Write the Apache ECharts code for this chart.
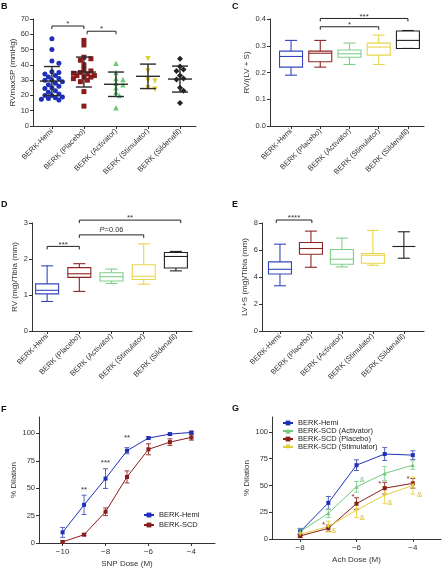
<!DOCTYPE html>
<html><head><meta charset="utf-8">
<script src="https://cdn.jsdelivr.net/npm/echarts@6/dist/echarts.min.js"></script>
<style>html,body{margin:0;padding:0;background:#fff}#c{width:442px;height:569px}</style>
</head><body><div id="c"></div><script>
// ---------- DATA ----------
const categories = ['BERK-Hemi', 'BERK (Placebo)', 'BERK (Activator)', 'BERK (Stimulator)', 'BERK (Sildenafil)'];
const catTicks = [0, 1, 2, 3, 4];

// Panel B: RVmaxSP individual points
const bHemi = [57, 50, 42.5, 41, 35.5, 35, 34, 33, 32, 31, 30, 30, 29, 28, 27, 26, 25, 24.5, 23, 22, 21, 20, 20, 19, 18.5, 18, 17.5, 17];
const bPlacebo = [56, 53, 45, 44, 43, 40, 37, 36, 35, 34.5, 34, 33, 33, 32, 32, 31, 30, 29, 22.5, 13];
const bActivator = [41, 35, 31, 30.5, 28, 27, 25, 22, 20, 12];
const bStimulator = [44, 36, 30, 29.5, 25, 24];
const bSildenafil = [44, 39, 37, 36, 33, 31, 30.5, 25, 23, 15];
const bMean = [29.4, 35.3, 27.3, 32.5, 30.7];
const bSD = [9.5, 9.8, 8.0, 8.0, 8.5];
const bBrackets = [[0, 1, 65.4], [1.1, 2, 62]];
const bBracketText = ['*', '*'];

// Panel C: RV/(LV+S) boxes [min, q1, median, q3, max]
const cBoxes = [[0.19, 0.22, 0.26, 0.28, 0.32], [0.22, 0.24, 0.272, 0.28, 0.32], [0.23, 0.257, 0.27, 0.284, 0.31], [0.23, 0.265, 0.295, 0.31, 0.34], [0.29, 0.29, 0.32, 0.355, 0.357]];
const cBrackets = [[1, 3, 0.371], [1, 4, 0.402]];
const cBracketText = ['*', '***'];

// Panel D: RV/Tibia boxes
const dBoxes = [[0.82, 1.03, 1.13, 1.31, 1.81], [1.10, 1.49, 1.59, 1.76, 1.87], [1.32, 1.39, 1.51, 1.62, 1.72], [1.30, 1.43, 1.52, 1.84, 2.42], [1.67, 1.75, 2.07, 2.18, 2.21]];
const dBrackets = [[0, 1, 2.35], [1, 3, 2.67], [1, 4.15, 3.08]];
const dBracketText = ['***', 'P=0.06', '**'];

// Panel E: LV+S/Tibia boxes
const eBoxes = [[3.35, 4.22, 4.57, 5.12, 6.43], [4.72, 5.69, 6.11, 6.56, 7.40], [4.75, 4.94, 5.32, 6.04, 6.88], [4.87, 5.02, 5.61, 5.74, 7.45], [5.39, 6.26, 6.26, 6.26, 7.35]];
const eBrackets = [[-0.12, 1.03, 8.22]];
const eBracketText = ['****'];

// Panel F: SNP dose response
const fDose = [-10, -9, -8, -7, -6, -5, -4];
const fHemi = [9.7, 34.8, 58.8, 84.2, 95.8, 99.4, 100.9];
const fHemiErr = [4.5, 8.8, 9.0, 2.8, 1.0, 0.8, 0.8];
const fSCD = [1.0, 7.6, 28.5, 60.3, 85.5, 92.1, 96.4];
const fSCDErr = [1.0, 1.0, 3.5, 5.5, 5.0, 3.0, 2.5];
const fStars = [[-9, 48.5], [-8, 73.6], [-7, 96]];
const fStarText = ['**', '***', '**'];

// Panel G: Ach dose response
const gDose = [-8, -7, -6, -5, -4];
const gHemi = [6.9, 33.75, 69, 79.4, 78.4];
const gHemiErr = [3, 6, 5, 6, 4];
const gAct = [7, 24, 48.75, 61.25, 69];
const gActErr = [2, 4, 5, 6.5, 4];
const gPla = [2.8, 10, 33, 47.5, 52];
const gPlaErr = [1.5, 3, 5.5, 5.5, 4.5];
const gSti = [4.4, 11.6, 27, 41, 50];
const gStiErr = [2, 5, 7, 8, 8];
const gRedStars = [[-7.17, 13], [-6.12, 39], [-5.17, 52], [-4.17, 56]];
const gGreenAmp = [[-5.8, 55]];
const gYellowAmp = [[-6.8, 7.5], [-5.8, 20], [-4.81, 33.4], [-3.76, 41]];

// ---------- STYLE ----------
const FONT = '"Liberation Sans", Arial, sans-serif';
const TXT = '#333';
const BLUE = '#1f30b8', RED = '#8a1c1c', GREEN = '#6fc97c', YELLOW = '#e2cf3a', BLACK = '#222', GOLD = '#d8b92a';
const boxColors = ['#3445bf', '#8e2626', '#7fcf8a', '#e8d64a', '#222'];

const chart = echarts.init(document.getElementById('c'));

const grids = [
  {left: 33, top: 19, width: 163, height: 107},
  {left: 270, top: 19, width: 154, height: 107},
  {left: 32, top: 223, width: 160, height: 108},
  {left: 262, top: 223, width: 162, height: 108},
  {left: 39, top: 417, width: 176, height: 126},
  {left: 272, top: 417, width: 169, height: 122}
];
const axLine = {show: true, onZero: false, lineStyle: {color: '#333', width: 1}};
function catX(gi, min, max) {
  return {type: 'value', gridIndex: gi, min, max, axisLine: axLine,
    axisTick: {show: true, length: 3, customValues: catTicks, lineStyle: {color: '#333'}},
    axisLabel: {customValues: catTicks, rotate: 45, fontSize: 7.5, fontFamily: FONT, color: TXT, margin: 4,
      formatter: v => categories[Math.round(v)] || ''},
    splitLine: {show: false}};
}
function doseX(gi, min, max, ticks, name) {
  return {type: 'value', gridIndex: gi, min, max, axisLine: axLine,
    axisTick: {show: true, length: 3, customValues: ticks, lineStyle: {color: '#333'}},
    axisLabel: {customValues: ticks, fontSize: 8, fontFamily: FONT, color: TXT, margin: 5,
      formatter: v => (v < 0 ? '\u2212' : '') + Math.abs(v)},
    name, nameLocation: 'middle', nameGap: 17, nameTextStyle: {fontSize: 8, fontFamily: FONT, color: TXT},
    splitLine: {show: false}};
}
function valY(gi, min, max, interval, name, gap, fmt, custom) {
  const a = {type: 'value', gridIndex: gi, min, max, axisLine: axLine,
    axisTick: {show: true, length: 3, lineStyle: {color: '#333'}},
    axisLabel: {fontSize: 7.5, fontFamily: FONT, color: TXT, margin: 4},
    name, nameLocation: 'middle', nameGap: gap, nameTextStyle: {fontSize: 8, fontFamily: FONT, color: TXT},
    splitLine: {show: false}};
  if (interval) a.interval = interval;
  if (fmt) a.axisLabel.formatter = fmt;
  if (custom) { a.axisTick.customValues = custom; a.axisLabel.customValues = custom; }
  return a;
}

function boxSeries(gi, boxes) {
  return {type: 'custom', xAxisIndex: gi, yAxisIndex: gi, clip: false, silent: true, z: 3,
    data: boxes.map((b, i) => [i].concat(b)), encode: {x: 0, y: [1, 2, 3, 4, 5]},
    renderItem: (p, api) => {
      const i = api.value(0);
      const c = api.coord.bind(api);
      const mn = c([i, api.value(1)]), q1 = c([i, api.value(2)]), md = c([i, api.value(3)]), q3 = c([i, api.value(4)]), mx = c([i, api.value(5)]);
      const x = md[0], hw = 11.5, cw = 6;
      const col = boxColors[i];
      const st = {stroke: col, lineWidth: 1.1, fill: null};
      const ch = [];
      if (q1[1] - q3[1] > 0.5) ch.push({type: 'rect', shape: {x: x - hw, y: q3[1], width: 2 * hw, height: q1[1] - q3[1]}, style: st});
      ch.push({type: 'line', shape: {x1: x - hw, y1: md[1], x2: x + hw, y2: md[1]}, style: st});
      ch.push({type: 'line', shape: {x1: x, y1: q3[1], x2: x, y2: mx[1]}, style: st});
      ch.push({type: 'line', shape: {x1: x, y1: q1[1], x2: x, y2: mn[1]}, style: st});
      ch.push({type: 'line', shape: {x1: x - cw, y1: mx[1], x2: x + cw, y2: mx[1]}, style: st});
      ch.push({type: 'line', shape: {x1: x - cw, y1: mn[1], x2: x + cw, y2: mn[1]}, style: st});
      return {type: 'group', children: ch};
    }};
}
function bracketSeries(gi, arr, texts) {
  return {type: 'custom', xAxisIndex: gi, yAxisIndex: gi, clip: false, silent: true, z: 5,
    data: arr.map(b => [b[0], b[1], b[2]]), encode: {x: [0, 1], y: 2},
    renderItem: (p, api) => {
      const a = api.coord([api.value(0), api.value(2)]), b = api.coord([api.value(1), api.value(2)]);
      const t = texts[p.dataIndex];
      const star = t.indexOf('*') >= 0;
      const txt = star ? {text: t, fill: '#333', fontSize: 8, fontFamily: FONT, align: 'center', verticalAlign: 'middle'}
        : {text: '{i|P}=0.06', rich: {i: {fontStyle: 'italic', fontSize: 7.5, fontFamily: FONT, fill: '#333'}}, fill: '#333', fontSize: 7.5, fontFamily: FONT, align: 'center', verticalAlign: 'bottom'};
      return {type: 'group', children: [
        {type: 'polyline', shape: {points: [[a[0], a[1] + 3], [a[0], a[1]], [b[0], b[1]], [b[0], b[1] + 3]]}, style: {stroke: '#222', lineWidth: 1, fill: null}},
        {type: 'text', x: (a[0] + b[0]) / 2, y: star ? a[1] - 2 : a[1] - 1, style: txt}
      ]};
    }};
}
function textSeries(gi, arr, texts, color, size) {
  return {type: 'custom', xAxisIndex: gi, yAxisIndex: gi, clip: false, silent: true, z: 6,
    data: arr.map(b => [b[0], b[1]]), encode: {x: 0, y: 1},
    renderItem: (p, api) => {
      const a = api.coord([api.value(0), api.value(1)]);
      const t = Array.isArray(texts) ? texts[p.dataIndex] : texts;
      return {type: 'text', x: a[0], y: a[1], style: {text: t, fill: color, fontSize: size, fontFamily: FONT, align: 'center', verticalAlign: 'middle'}};
    }};
}
function errSeries(gi, xs, ys, es, color, cap) {
  return {type: 'custom', xAxisIndex: gi, yAxisIndex: gi, clip: false, silent: true, z: 2,
    data: xs.map((x, i) => [x, ys[i], es[i]]), encode: {x: 0, y: 1},
    renderItem: (p, api) => {
      const x = api.value(0), y = api.value(1), e = api.value(2);
      const t = api.coord([x, y + e]), b = api.coord([x, y - e]);
      const w = cap;
      const st = {stroke: color, lineWidth: 1, fill: null};
      return {type: 'group', children: [
        {type: 'line', shape: {x1: t[0], y1: t[1], x2: b[0], y2: b[1]}, style: st},
        {type: 'line', shape: {x1: t[0] - w, y1: t[1], x2: t[0] + w, y2: t[1]}, style: st},
        {type: 'line', shape: {x1: b[0] - w, y1: b[1], x2: b[0] + w, y2: b[1]}, style: st}
      ]};
    }};
}
function meanSDSeries(gi, means, sds) {
  return {type: 'custom', xAxisIndex: gi, yAxisIndex: gi, clip: false, silent: true, z: 6,
    data: means.map((m, i) => [i, m, sds[i]]), encode: {x: 0, y: 1},
    renderItem: (p, api) => {
      const i = api.value(0), m = api.value(1), s = api.value(2);
      const c = api.coord([i, m]), t = api.coord([i, m + s]), b = api.coord([i, m - s]);
      const st = {stroke: '#2a2a2a', lineWidth: 1.4, fill: null};
      return {type: 'group', children: [
        {type: 'line', shape: {x1: c[0], y1: t[1], x2: c[0], y2: b[1]}, style: st},
        {type: 'line', shape: {x1: c[0] - 12, y1: c[1], x2: c[0] + 12, y2: c[1]}, style: st},
        {type: 'line', shape: {x1: c[0] - 8, y1: t[1], x2: c[0] + 8, y2: t[1]}, style: st},
        {type: 'line', shape: {x1: c[0] - 8, y1: b[1], x2: c[0] + 8, y2: b[1]}, style: st}
      ]};
    }};
}
const bGroups = [
  {vals: bHemi, symbol: 'circle', size: 5, color: BLUE, rot: 0},
  {vals: bPlacebo, symbol: 'rect', size: 5, color: RED, rot: 0},
  {vals: bActivator, symbol: 'triangle', size: 5.5, color: GREEN, rot: 0},
  {vals: bStimulator, symbol: 'triangle', size: 5.5, color: YELLOW, rot: 180},
  {vals: bSildenafil, symbol: 'diamond', size: 6, color: BLACK, rot: 0}
];
function lineSeries(gi, name, xs, ys, color, symbol, size, rot) {
  return {type: 'line', name, xAxisIndex: gi, yAxisIndex: gi, data: xs.map((x, i) => [x, ys[i]]),
    symbol, symbolSize: size, symbolRotate: rot || 0, showSymbol: true, z: 4,
    lineStyle: {color, width: 1}, itemStyle: {color}, emphasis: {disabled: true}};
}

const series = [];
bGroups.forEach((g, i) => series.push({type: 'scatter', id: 'bs' + i, xAxisIndex: 0, yAxisIndex: 0,
  data: g.vals.map(v => [i, v]), symbol: g.symbol, symbolSize: g.size, symbolRotate: g.rot,
  itemStyle: {color: g.color, opacity: 1}, z: 3}));
series.push(meanSDSeries(0, bMean, bSD));
series.push(bracketSeries(0, bBrackets, bBracketText));
series.push(boxSeries(1, cBoxes));
series.push(bracketSeries(1, cBrackets, cBracketText));
series.push(boxSeries(2, dBoxes));
series.push(bracketSeries(2, dBrackets, dBracketText));
series.push(boxSeries(3, eBoxes));
series.push(bracketSeries(3, eBrackets, eBracketText));
// F
series.push(errSeries(4, fDose, fHemi, fHemiErr, '#5563c8', 2.5));
series.push(errSeries(4, fDose, fSCD, fSCDErr, '#9a3a3a', 2.5));
series.push(lineSeries(4, 'BERK-Hemi', fDose, fHemi, BLUE, 'rect', 4));
series.push(lineSeries(4, 'BERK-SCD', fDose, fSCD, RED, 'rect', 4));
series.push(textSeries(4, fStars, fStarText, '#333', 8));
// G
series.push(errSeries(5, gDose, gHemi, gHemiErr, '#5563c8', 2.5));
series.push(errSeries(5, gDose, gAct, gActErr, '#8fd69a', 2.5));
series.push(errSeries(5, gDose, gPla, gPlaErr, '#9a3a3a', 2.5));
series.push(errSeries(5, gDose, gSti, gStiErr, '#ecd85a', 2.5));
series.push(lineSeries(5, 'BERK-Hemi', gDose, gHemi, BLUE, 'rect', 4));
series.push(lineSeries(5, 'BERK-SCD (Activator)', gDose, gAct, GREEN, 'triangle', 4));
series.push(lineSeries(5, 'BERK-SCD (Placebo)', gDose, gPla, RED, 'rect', 4));
series.push(lineSeries(5, 'BERK-SCD (Stimulator)', gDose, gSti, YELLOW, 'triangle', 4, 180));
series.push(textSeries(5, gRedStars, '*', RED, 8));
series.push(textSeries(5, gGreenAmp, '&', GREEN, 8));
series.push(textSeries(5, gYellowAmp, '&', GOLD, 8));

const letter = (t, x, y) => ({type: 'text', left: x, top: y, style: {text: t, fontSize: 9, fontWeight: 'bold', fontFamily: FONT, fill: '#111'}});

const option = {
  animation: false,
  textStyle: {fontFamily: FONT},
  grid: grids,
  xAxis: [catX(0, -0.59, 4.5), catX(1, -0.72, 4.55), catX(2, -0.47, 4.5), catX(3, -0.58, 4.65),
    doseX(4, -11.1, -2.9, [-10, -8, -6, -4], 'SNP Dose (M)'), doseX(5, -9, -3, [-8, -6, -4], 'Ach Dose (M)')],
  yAxis: [valY(0, 0, 70, 10, 'RVmaxSP (mmHg)', 16),
    valY(1, 0, 0.4, 0.1, 'RV/(LV + S)', 19, v => v.toFixed(1)),
    valY(2, 0, 3, 1, 'RV (mg)/Tibia (mm)', 13),
    valY(3, 0, 8, 2, 'LV+S (mg)/Tibia (mm)', 13),
    valY(4, 0, 115, null, '% Dilation', 21, null, [0, 25, 50, 75, 100]),
    valY(5, 0, 114, null, '% Dilation', 21, null, [0, 25, 50, 75, 100])],
  legend: [
    {data: ['BERK-Hemi', 'BERK-SCD'], orient: 'vertical', left: 138, top: 506, itemWidth: 10, itemHeight: 6, itemGap: 2,
      selectedMode: false, textStyle: {fontSize: 7.5, fontFamily: FONT, color: '#222'}},
    {data: ['BERK-Hemi', 'BERK-SCD (Activator)', 'BERK-SCD (Placebo)', 'BERK-SCD (Stimulator)'], orient: 'vertical', left: 277, top: 414,
      itemWidth: 10, itemHeight: 6, itemGap: 0, selectedMode: false, textStyle: {fontSize: 7.5, fontFamily: FONT, color: '#222'}}
  ],
  graphic: [letter('B', 1, 2), letter('C', 232, 2), letter('D', 1, 200), letter('E', 232, 200), letter('F', 1, 405), letter('G', 232, 404)],
  series
};
chart.setOption(option);

// beeswarm layout of B points (deterministic horizontal spreading, limited width)
function swarm(gi, idx, vals, step, minDist, maxK) {
  const f = {xAxisIndex: gi, yAxisIndex: gi};
  const ppu = chart.convertToPixel(f, [1, 0])[0] - chart.convertToPixel(f, [0, 0])[0];
  const placed = [], out = [];
  const cands = [0];
  for (let k = 1; k <= maxK; k++) { cands.push(k, -k); }
  vals.forEach(v => {
    const py = chart.convertToPixel(f, [idx, v])[1];
    let best = 0, bestD = -1;
    for (const k of cands) {
      const dx = k * step;
      const d = placed.length ? Math.min(...placed.map(q => Math.hypot(q[0] - dx, q[1] - py))) : Infinity;
      if (d >= minDist) { best = dx; bestD = d; break; }
      if (d > bestD) { bestD = d; best = dx; }
    }
    placed.push([best, py]);
    out.push([idx + best / ppu, v]);
  });
  return out;
}
chart.setOption({series: bGroups.map((g, i) => ({id: 'bs' + i, data: swarm(0, i, g.vals, 3.5, 4.2, 3)}))});
</script></body></html>
